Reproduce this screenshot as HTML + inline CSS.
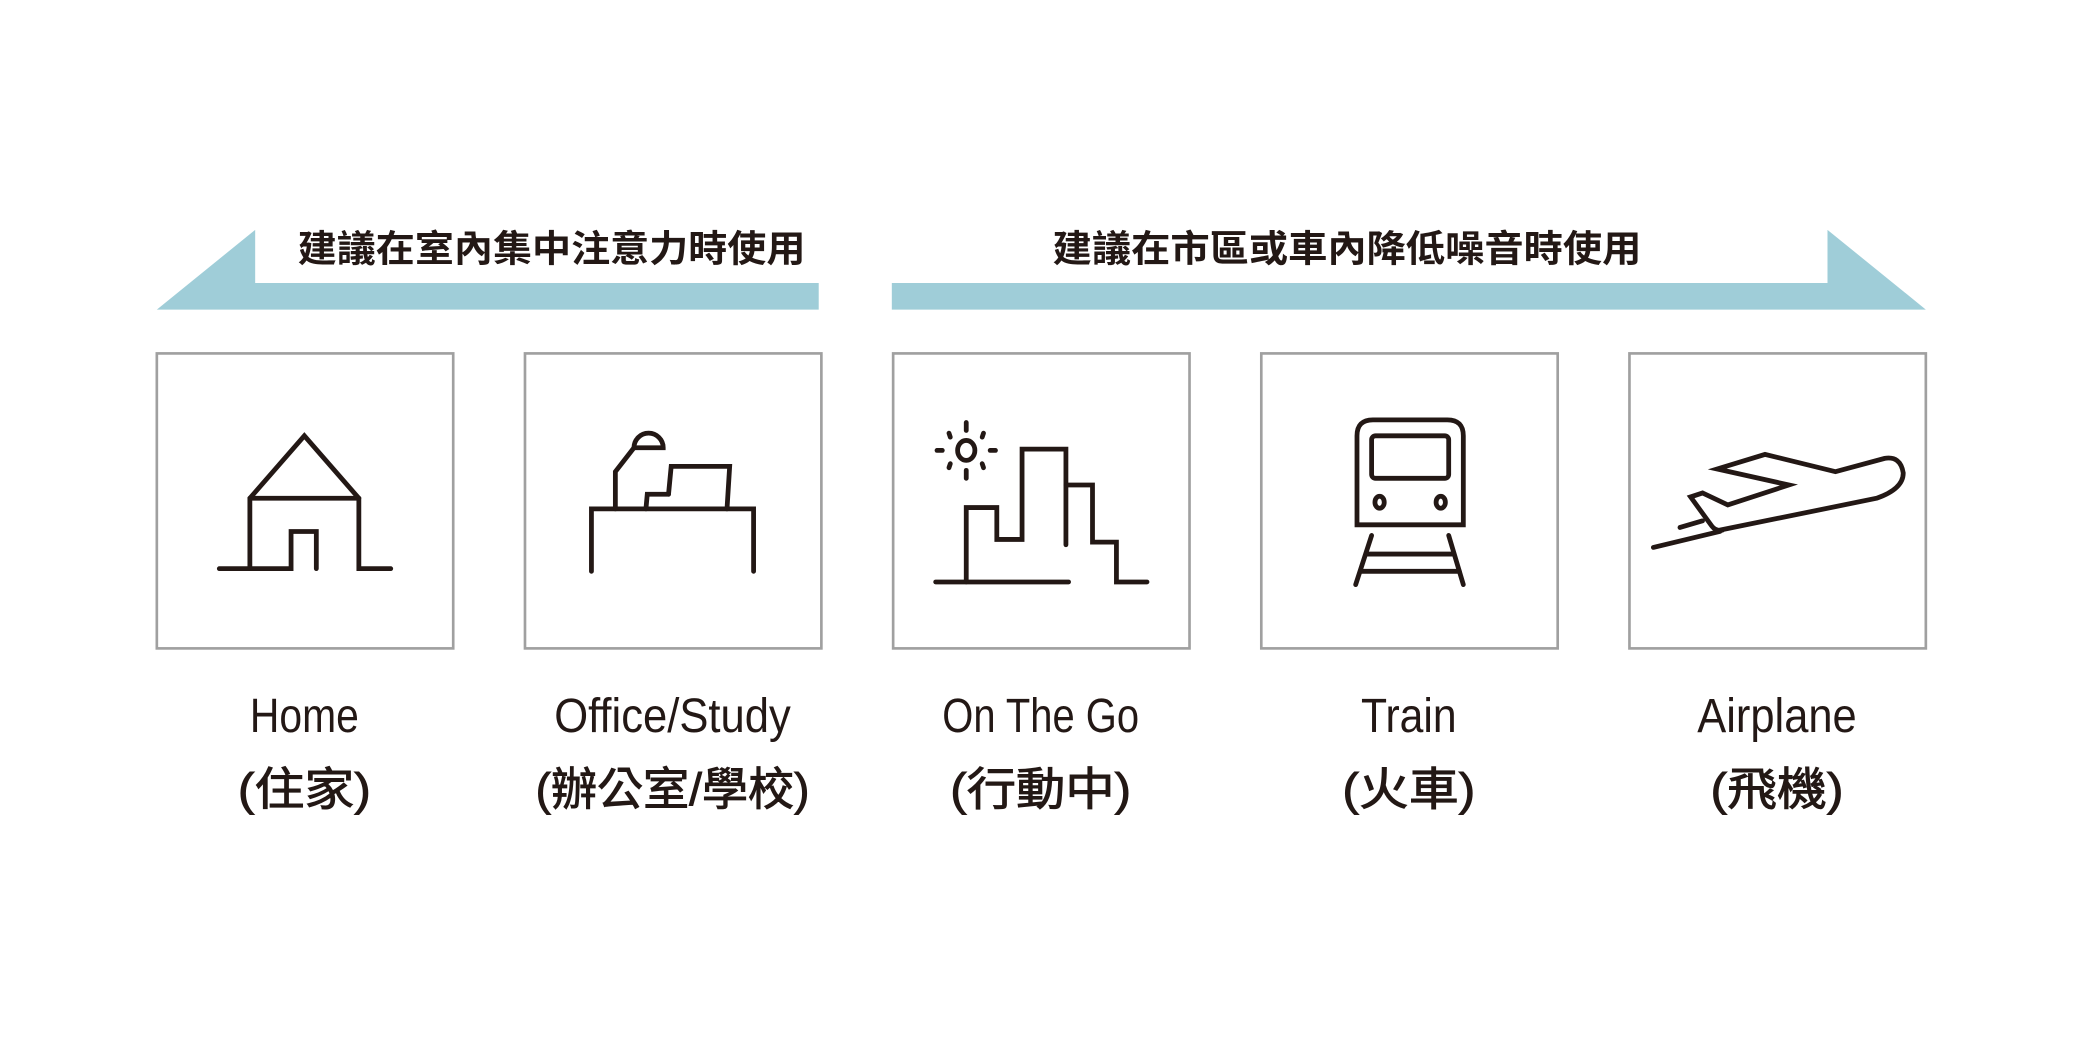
<!DOCTYPE html>
<html><head><meta charset="utf-8"><style>
html,body{margin:0;padding:0;background:#fff;}
svg{display:block;}
text{font-family:"Liberation Sans","Noto Sans CJK TC",sans-serif;fill:#231815;}
</style></head><body>
<svg width="2084" height="1043" viewBox="0 0 1568 785" preserveAspectRatio="none" xmlns="http://www.w3.org/2000/svg">
<rect width="1568" height="785" fill="#fff"/>
<polygon points="118,233 192,173 192,213 616,213 616,233" fill="#9fcdd8"/>
<polygon points="671,213 1375,213 1375,173 1449,233 671,233" fill="#9fcdd8"/>
<text x="224" y="197" font-size="28" font-weight="bold" textLength="382" lengthAdjust="spacingAndGlyphs">建議在室內集中注意力時使用</text>
<text x="792" y="197" font-size="28" font-weight="bold" textLength="443" lengthAdjust="spacingAndGlyphs">建議在市區或車內降低噪音時使用</text>
<g fill="none" stroke="#a0a0a0" stroke-width="2">
<rect x="118" y="266" width="223" height="222"/>
<rect x="395" y="266" width="223" height="222"/>
<rect x="672" y="266" width="223" height="222"/>
<rect x="949" y="266" width="223" height="222"/>
<rect x="1226" y="266" width="223" height="222"/>
</g>
<g fill="none" stroke="#231815" stroke-width="3.6" stroke-linecap="round" stroke-linejoin="miter">
<polyline points="165,428 219,428 219,400 238,400 238,428"/>
<polyline points="188,428 188,375 229,328 270,375 270,428 294,428"/>
<line x1="188" y1="375" x2="270" y2="375"/>
<polyline points="445,430 445,383 567,383 567,430"/>
<polyline points="463,383 463,355 477,337"/>
<path d="M477,337 A11,11 0 0 1 499,337 Z"/>
<polyline points="503,372 505,351 549,351 547,383"/>
<polyline points="503,372 487,372 486,383"/>
<line x1="704" y1="438" x2="804" y2="438"/>
<polyline points="727,438 727,382 750,382 750,406 769,406 769,338 802,338 802,410"/>
<polyline points="802,365 822,365 822,408 840,408 840,438 863,438"/>
<ellipse cx="727" cy="339" rx="6.5" ry="7.5"/>
<line x1="727" y1="318" x2="727" y2="324"/>
<line x1="727" y1="354" x2="727" y2="360"/>
<line x1="705" y1="339" x2="709" y2="339"/>
<line x1="745" y1="339" x2="749" y2="339"/>
<line x1="714" y1="326" x2="715" y2="329"/>
<line x1="740" y1="326" x2="739" y2="329"/>
<line x1="714" y1="352" x2="715" y2="349"/>
<line x1="740" y1="352" x2="739" y2="349"/>
<path d="M1021,395 L1021,328 Q1021,316 1033,316 L1089,316 Q1101,316 1101,328 L1101,395 Z"/>
<rect x="1032" y="328" width="58" height="32" rx="3"/>
<ellipse cx="1038" cy="378" rx="3.5" ry="4.5"/>
<ellipse cx="1084" cy="378" rx="3.5" ry="4.5"/>
<line x1="1032" y1="403" x2="1020" y2="440"/>
<line x1="1090" y1="403" x2="1101" y2="440"/>
<line x1="1028" y1="417" x2="1094" y2="417"/>
<line x1="1024" y1="430" x2="1098" y2="430"/>
<line x1="1244" y1="412" x2="1294" y2="400"/>
<line x1="1264" y1="397" x2="1281" y2="392"/>
<path d="M1294,399 L1412,375 Q1432,368 1432,356 Q1430,343 1418,345 L1381,355 L1328,342 L1292,353 L1346,365 L1300,380 L1281,371 L1272,374 L1288,396 Q1291,400 1296,399"/>
</g>
<g font-size="36" text-anchor="middle">
<text x="229" y="551" textLength="82" lengthAdjust="spacingAndGlyphs">Home</text>
<text x="506" y="551" textLength="178" lengthAdjust="spacingAndGlyphs">Office/Study</text>
<text x="783" y="551" textLength="148" lengthAdjust="spacingAndGlyphs">On The Go</text>
<text x="1060" y="551" textLength="72" lengthAdjust="spacingAndGlyphs">Train</text>
<text x="1337" y="551" textLength="120" lengthAdjust="spacingAndGlyphs">Airplane</text>
</g>
<g font-size="34" text-anchor="middle" stroke="#231815" stroke-width="0.7">
<text x="229" y="606" textLength="100" lengthAdjust="spacingAndGlyphs">(住家)</text>
<text x="506" y="606" textLength="206" lengthAdjust="spacingAndGlyphs">(辦公室/學校)</text>
<text x="783" y="606" textLength="136" lengthAdjust="spacingAndGlyphs">(行動中)</text>
<text x="1060" y="606" textLength="100" lengthAdjust="spacingAndGlyphs">(火車)</text>
<text x="1337" y="606" textLength="100" lengthAdjust="spacingAndGlyphs">(飛機)</text>
</g>
</svg>
</body></html>
